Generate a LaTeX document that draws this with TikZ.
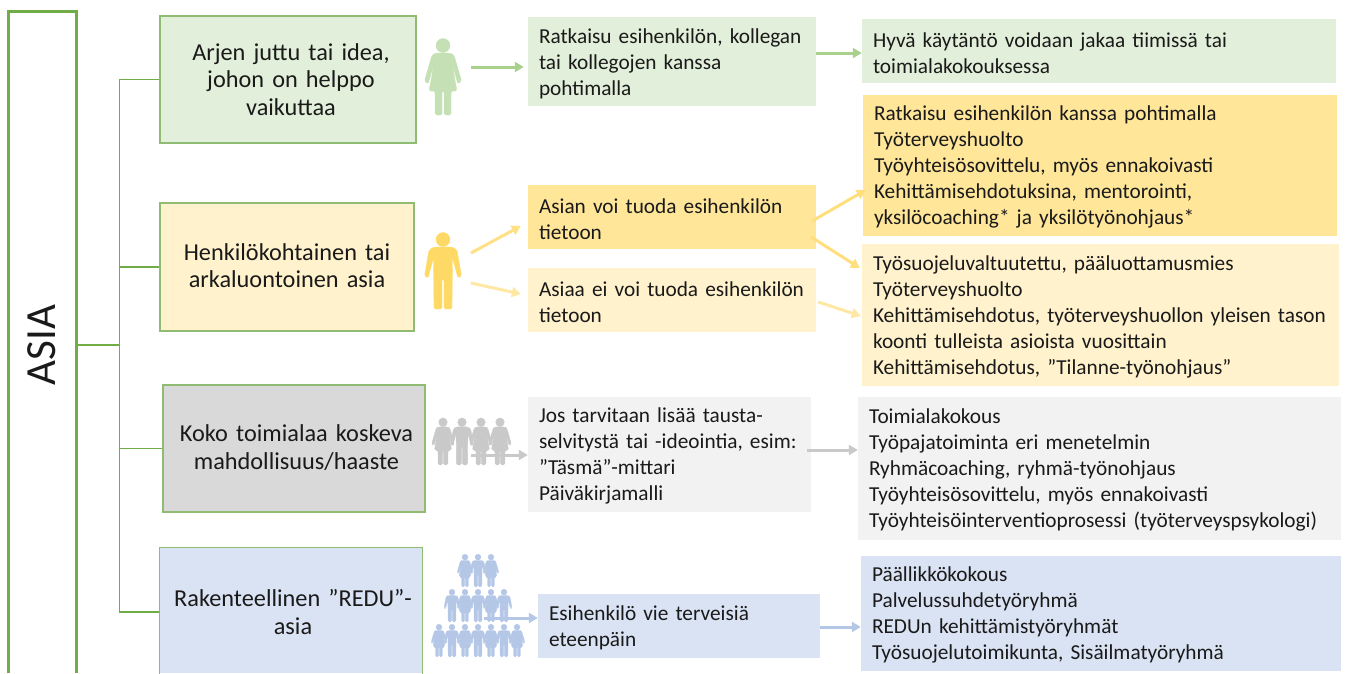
\documentclass[tikz,border=0pt]{standalone}
\usepackage{fontspec}
\setmainfont{Carlito}
\usetikzlibrary{arrows.meta}
\definecolor{frameG}{HTML}{70AD47}
\definecolor{edgeG}{HTML}{8FBC72}
\definecolor{G1}{HTML}{E2EFDA}
\definecolor{G2}{HTML}{A9D18E}
\definecolor{GI}{HTML}{C5E0B4}
\definecolor{Y1}{HTML}{FFF2CC}
\definecolor{Y2}{HTML}{FFE699}
\definecolor{YI}{HTML}{FFD966}
\definecolor{K1}{HTML}{D9D9D9}
\definecolor{K2}{HTML}{F2F2F2}
\definecolor{KI}{HTML}{C9C9C9}
\definecolor{B1}{HTML}{DAE3F3}
\definecolor{BI}{HTML}{B4C7E7}
\definecolor{txt}{HTML}{1A1A1A}
\newcommand{\lowerfirst}[1]{\rule{0pt}{#1}}
\newcommand{\raiselast}[1]{\rule[-#1]{0pt}{0pt}}
\tikzset{
  x=1pt,y=-1pt,
  headbox/.style n args={3}{draw=edgeG,line width=1.4pt,fill=#1,minimum width=#2pt,minimum height=#3pt,
    text width=#2pt-6pt,inner sep=0pt,align=center,text=txt,font=\fontsize{24.3}{27.5}\selectfont},
  bodybox/.style n args={3}{fill=#1,minimum width=#2pt,minimum height=#3pt,text width=#2pt-22pt,
    inner xsep=11pt,inner ysep=0pt,align=left,text=txt,font=\fontsize{21.3}{26}\selectfont,
    execute at begin node={\lowerfirst{18.5pt}}},
  link/.style={draw=frameG,line width=1.2pt},
  flow/.style={line width=3pt,-{Triangle[length=9pt,width=10pt]}},
  woman/.pic={
    \path[pic actions] (0,8.5) circle[radius=7];
    \path[pic actions,rounded corners=1.5pt] (-7,16) -- (7,16) -- (11,18) -- (18.5,44) -- (15,47) -- (9,27) -- (14,54) -- (8,54) -- (8,78) -- (1,78) -- (1,54) -- (-1,54) -- (-1,78) -- (-8,78) -- (-8,54) -- (-14,54) -- (-9,27) -- (-15,47) -- (-18.5,44) -- (-11,18) -- cycle;
  },
  man/.pic={
    \path[pic actions] (0,8.5) circle[radius=7];
    \path[pic actions,rounded corners=1.5pt] (-9,16) -- (9,16) -- (14,19) -- (18.5,45) -- (15,47) -- (9.5,27) -- (9,78) -- (1,78) -- (1,48) -- (-1,48) -- (-1,78) -- (-9,78) -- (-9.5,27) -- (-15,47) -- (-18.5,45) -- (-14,19) -- cycle;
  }
}
\begin{document}
\begin{tikzpicture}
\useasboundingbox (0,0) rectangle (1346,673);
% left frame
\node[minimum width=67pt,minimum height=661pt,inner sep=0pt] (asiabox) at (42.5,342.5) {};
\draw[frameG,line width=3pt,line join=miter] (asiabox.south west) -- (asiabox.north west) -- (asiabox.north east) -- (asiabox.south east);
\node[rotate=90,font=\fontsize{43}{48}\selectfont,text=txt,inner sep=0pt] (asialabel) at (42,345) {ASIA};
\coordinate (start) at (asialabel -| asiabox.east);
\coordinate (trunk) at (119.5,345);
% first column
\node[headbox={G1}{256}{127}] (a1) at (288,79.5) {\hspace*{6pt}Arjen juttu tai idea,\\\hspace*{6pt}johon on helppo\\\hspace*{6pt}vaikuttaa};
\node[headbox={Y1}{254}{128}] (a2) at (287,267) {Henkilökohtainen tai\\arkaluontoinen asia\raiselast{3pt}};
\node[headbox={K1}{262}{127}] (a3) at (294,448.5) {\hspace*{5pt}Koko toimialaa koskeva\\\hspace*{5pt}mahdollisuus/haaste\raiselast{3pt}};
\node[headbox={B1}{262}{125},draw=none] (a4) at (291,610.5) {\hspace*{4pt}\lowerfirst{20pt}Rakenteellinen ”REDU”-\\\hspace*{4pt}asia};
\draw[edgeG,line width=1.4pt] (a4.south west) -- (a4.north west) -- (a4.north east) -- (a4.south east);
% connectors of the tree
\draw[link] (start) -- (trunk);
\draw[link] (trunk) |- (a1.west);
\draw[link] (trunk) |- (a2.west);
\draw[link] (trunk) |- (a3.west);
\draw[link] (trunk) |- ([yshift=-1.5pt]a4.west);
% second column
\node[bodybox={G1}{288}{89}] (b1) at (672,61.5) {Ratkaisu esihenkilön, kollegan\\tai kollegojen kanssa\\pohtimalla};
\node[bodybox={Y2}{288}{64}] (b2) at (672,217) {Asian voi tuoda esihenkilön\\tietoon};
\node[bodybox={Y1}{288}{64}] (b3) at (672,300) {Asiaa ei voi tuoda esihenkilön\\tietoon};
\node[bodybox={K2}{283}{115}] (b4) at (669.5,454.5) {Jos tarvitaan lisää tausta-\\selvitystä tai -ideointia, esim:\\”Täsmä”-mittari\\Päiväkirjamalli};
\node[bodybox={B1}{282}{64}] (b5) at (679,626) {Esihenkilö vie terveisiä\\eteenpäin};
% third column
\node[bodybox={G1}{474}{64}] (c1) at (1099,51) {Hyvä käytäntö voidaan jakaa tiimissä tai\\toimialakokouksessa};
\node[bodybox={Y2}{474}{141}] (c2) at (1100,165.5) {Ratkaisu esihenkilön kanssa pohtimalla\\Työterveyshuolto\\Työyhteisösovittelu, myös ennakoivasti\\Kehittämisehdotuksina, mentorointi,\\yksilöcoaching* ja yksilötyönohjaus*};
\node[bodybox={Y1}{477}{142}] (c3) at (1100.5,315) {Työsuojeluvaltuutettu, pääluottamusmies\\Työterveyshuolto\\Kehittämisehdotus, työterveyshuollon yleisen tason\\koonti tulleista asioista vuosittain\\Kehittämisehdotus, ”Tilanne-työnohjaus”};
\node[bodybox={K2}{483}{143}] (c4) at (1099.5,468.5) {Toimialakokous\\Työpajatoiminta eri menetelmin\\Ryhmäcoaching, ryhmä-työnohjaus\\Työyhteisösovittelu, myös ennakoivasti\\Työyhteisöinterventioprosessi (työterveyspsykologi)};
\node[bodybox={B1}{480}{115}] (c5) at (1101,613.5) {Päällikkökokous\\Palvelussuhdetyöryhmä\\REDUn kehittämistyöryhmät\\Työsuojelutoimikunta, Sisäilmatyöryhmä};
% people
\pic[fill=GI,draw=GI,line width=.3pt] at (443,37) {woman};
\pic[fill=YI,draw=YI,line width=.3pt] at (443,231) {man};
\foreach \px/\pk in {443/woman,462/man,481/woman,500/woman}
  \pic[fill=KI,draw=KI,line width=.35pt,scale=.615] at (\px,417) {\pk};
\foreach \px/\pk in {465/woman,478/man,491/woman}
  \pic[fill=BI,draw=BI,line width=.2pt,scale=.43] at (\px,553.5) {\pk};
\foreach \px/\pk in {452/man,465/woman,478/man,491/woman,504/man}
  \pic[fill=BI,draw=BI,line width=.2pt,scale=.43] at (\px,588.5) {\pk};
\foreach \px/\pk in {439/woman,452/man,465/woman,478/man,491/woman,504/man,517/woman}
  \pic[fill=BI,draw=BI,line width=.2pt,scale=.43] at (\px,623.5) {\pk};
% arrows
\coordinate (pg) at (471,67);
\coordinate (py1) at (471,253);
\coordinate (py2) at (471,283);
\coordinate (pk) at (471,455);
\coordinate (pb) at (484,618);
\draw[flow,G2] (pg) -- ([xshift=-4pt]pg -| b1.west);
\draw[flow,G2] ([yshift=8.5pt]b1.east) -- ([yshift=-2pt]c1.west);
\draw[flow,YI!80!white] (py1) -- ([yshift=-9pt,xshift=-7pt]b2.west);
\draw[flow,Y2!80!Y1] (py2) -- ([yshift=6pt,xshift=-7pt]b3.west);
\draw[flow,YI!85!white] ([xshift=-4pt,yshift=-4pt]b2.east) -- ([xshift=3pt,yshift=-24.5pt]c2.west);
\draw[flow,YI!85!white] ([xshift=-5pt,yshift=-20pt]b2.east) -- ([xshift=-2pt,yshift=47pt]c3.west);
\draw[flow,Y2!80!Y1] ([xshift=2pt,yshift=-2pt]b3.east) -- ([xshift=-1pt,yshift=-1pt]c3.west);
\draw[flow,KI] (pk) -- (pk -| b4.west);
\draw[flow,KI] ([xshift=-4pt,yshift=4.5pt]b4.east) -- ([yshift=18.5pt]c4.west);
\draw[flow,BI] (pb) -- (pb -| b5.west);
\draw[flow,BI] ([yshift=-1pt]b5.east) -- ([yshift=-13.5pt]c5.west);
\end{tikzpicture}
\end{document}
